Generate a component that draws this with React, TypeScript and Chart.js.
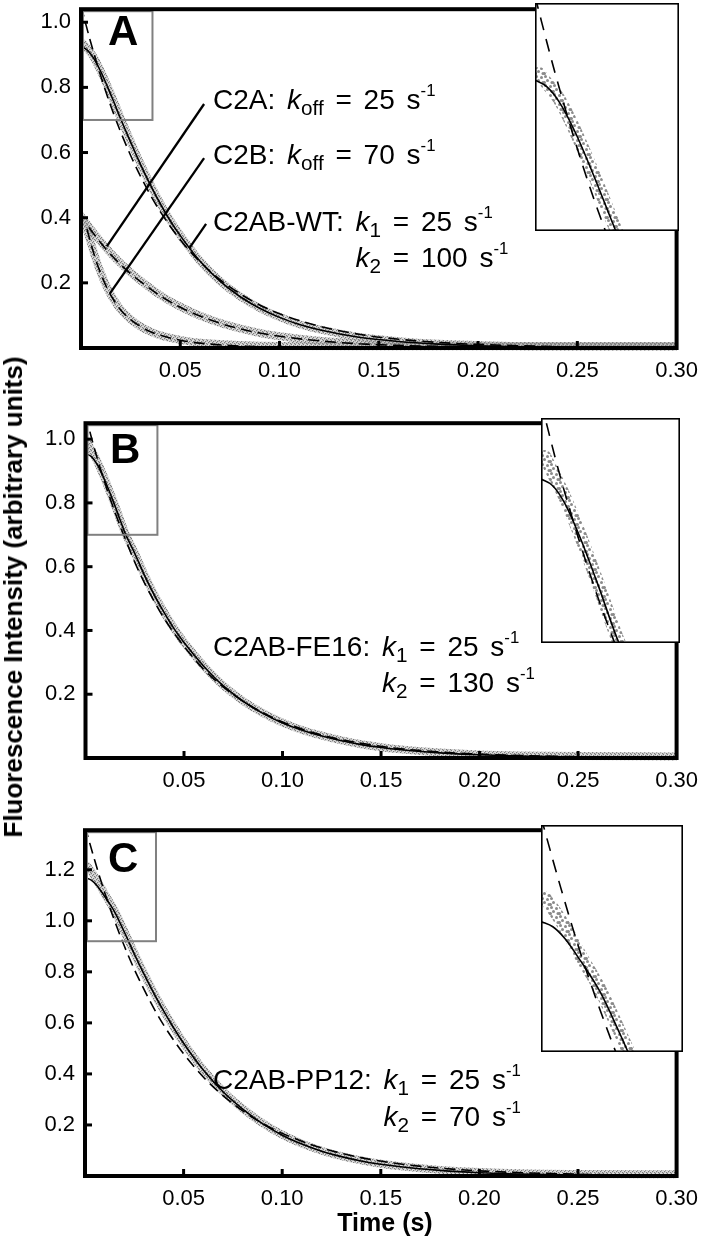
import React, { useEffect, useRef } from 'react';
import { Chart, registerables } from 'chart.js';
Chart.register(...registerables);

const FONT = '"Liberation Sans", Arial, Helvetica, sans-serif';
const PAGE_W = 708;
const PAD_T = 16;
const X_H = 44;

// ---------------- Panel A data ----------------
const tA_wt_obs = [0.001, 0.003, 0.006, 0.010, 0.015, 0.020, 0.025, 0.030, 0.035, 0.040, 0.045, 0.050, 0.060, 0.070, 0.080, 0.090, 0.100, 0.110, 0.120, 0.140, 0.160, 0.180, 0.200, 0.220, 0.250, 0.300];
const yA_wt_obs = [0.935, 0.920, 0.897, 0.850, 0.780, 0.705, 0.634, 0.565, 0.501, 0.443, 0.391, 0.346, 0.267, 0.206, 0.159, 0.123, 0.095, 0.073, 0.057, 0.034, 0.021, 0.013, 0.009, 0.006, 0.005, 0.005];
const tA_wt_fit = [0.000, 0.003, 0.006, 0.010, 0.015, 0.020, 0.025, 0.030, 0.035, 0.040, 0.045, 0.050, 0.060, 0.070, 0.080, 0.090, 0.100, 0.110, 0.120, 0.140, 0.160, 0.180, 0.200, 0.220, 0.250, 0.300];
const yA_wt_fit = [0.925, 0.915, 0.893, 0.848, 0.778, 0.703, 0.632, 0.563, 0.500, 0.442, 0.390, 0.345, 0.266, 0.205, 0.158, 0.122, 0.094, 0.072, 0.056, 0.033, 0.020, 0.012, 0.007, 0.004, 0.002, 0.001];
const tA_wt_exp = [0.000, 0.005, 0.010, 0.015, 0.020, 0.025, 0.030, 0.035, 0.040, 0.050, 0.060, 0.070, 0.080, 0.090, 0.100, 0.120, 0.140, 0.160, 0.180, 0.200, 0.250, 0.300];
const yA_wt_exp = [1.050, 0.936, 0.834, 0.743, 0.663, 0.591, 0.527, 0.469, 0.418, 0.332, 0.264, 0.210, 0.167, 0.132, 0.105, 0.067, 0.042, 0.027, 0.017, 0.011, 0.003, 0.001];

const tA_c2a_obs = [0.000, 0.003, 0.006, 0.010, 0.015, 0.020, 0.025, 0.030, 0.040, 0.050, 0.060, 0.070, 0.080, 0.090, 0.100, 0.120, 0.140, 0.160, 0.200, 0.250, 0.300];
const yA_c2a_obs = [0.405, 0.380, 0.356, 0.326, 0.291, 0.260, 0.232, 0.207, 0.162, 0.127, 0.099, 0.077, 0.060, 0.046, 0.036, 0.022, 0.014, 0.010, 0.006, 0.005, 0.005];
const tA_c2a_exp = [0.004, 0.010, 0.015, 0.020, 0.025, 0.030, 0.040, 0.050, 0.060, 0.070, 0.080, 0.090, 0.100, 0.120, 0.140, 0.160, 0.200, 0.250, 0.300];
const yA_c2a_exp = [0.370, 0.322, 0.287, 0.256, 0.228, 0.204, 0.160, 0.125, 0.098, 0.076, 0.059, 0.046, 0.036, 0.022, 0.013, 0.008, 0.003, 0.001, 0.000];

const tA_c2b_obs = [0.001, 0.003, 0.005, 0.008, 0.010, 0.013, 0.016, 0.020, 0.025, 0.030, 0.035, 0.040, 0.050, 0.060, 0.080, 0.100, 0.150, 0.200, 0.300];
const yA_c2b_obs = [0.390, 0.362, 0.322, 0.264, 0.230, 0.188, 0.153, 0.118, 0.088, 0.066, 0.050, 0.039, 0.025, 0.016, 0.009, 0.006, 0.005, 0.005, 0.005];
const tA_c2b_exp = [0.003, 0.005, 0.008, 0.010, 0.013, 0.016, 0.020, 0.025, 0.030, 0.035, 0.040, 0.050, 0.060, 0.080, 0.100, 0.150, 0.300];
const yA_c2b_exp = [0.365, 0.320, 0.260, 0.228, 0.185, 0.152, 0.117, 0.087, 0.066, 0.050, 0.039, 0.024, 0.015, 0.006, 0.003, 0.001, 0.000];

// ---------------- Panel B data ----------------
const tB_obs = [0.001, 0.003, 0.006, 0.010, 0.015, 0.020, 0.025, 0.030, 0.035, 0.040, 0.045, 0.050, 0.060, 0.070, 0.080, 0.090, 0.100, 0.110, 0.120, 0.130, 0.140, 0.150, 0.160, 0.180, 0.200, 0.220, 0.250, 0.300];
const yB_obs = [0.990, 0.966, 0.930, 0.872, 0.792, 0.708, 0.643, 0.573, 0.511, 0.456, 0.406, 0.363, 0.289, 0.227, 0.179, 0.141, 0.111, 0.088, 0.070, 0.055, 0.043, 0.034, 0.027, 0.017, 0.011, 0.008, 0.006, 0.005];
const tB_fit = [0.000, 0.003, 0.006, 0.010, 0.015, 0.020, 0.025, 0.030, 0.035, 0.040, 0.045, 0.050, 0.060, 0.070, 0.080, 0.090, 0.100, 0.110, 0.120, 0.130, 0.140, 0.150, 0.160, 0.180, 0.200, 0.220, 0.250, 0.300];
const yB_fit = [0.955, 0.945, 0.920, 0.868, 0.790, 0.707, 0.642, 0.572, 0.510, 0.455, 0.405, 0.362, 0.288, 0.226, 0.178, 0.140, 0.110, 0.087, 0.069, 0.054, 0.042, 0.033, 0.026, 0.016, 0.010, 0.006, 0.003, 0.001];
const tB_exp = [0.000, 0.005, 0.010, 0.015, 0.020, 0.025, 0.030, 0.035, 0.040, 0.050, 0.060, 0.070, 0.080, 0.090, 0.100, 0.120, 0.140, 0.160, 0.180, 0.200, 0.250, 0.300];
const yB_exp = [1.075, 0.960, 0.860, 0.770, 0.690, 0.614, 0.548, 0.490, 0.437, 0.350, 0.278, 0.222, 0.178, 0.142, 0.113, 0.072, 0.046, 0.029, 0.019, 0.012, 0.004, 0.001];

// ---------------- Panel C data ----------------
const tC_obs = [0.001, 0.003, 0.006, 0.010, 0.015, 0.020, 0.025, 0.030, 0.035, 0.040, 0.045, 0.050, 0.060, 0.070, 0.080, 0.090, 0.100, 0.110, 0.120, 0.130, 0.140, 0.150, 0.160, 0.180, 0.200, 0.220, 0.250, 0.300];
const yC_obs = [1.215, 1.195, 1.160, 1.105, 1.040, 0.958, 0.873, 0.792, 0.717, 0.647, 0.582, 0.522, 0.417, 0.332, 0.264, 0.207, 0.162, 0.127, 0.099, 0.078, 0.061, 0.048, 0.038, 0.024, 0.016, 0.011, 0.008, 0.007];
const tC_fit = [0.000, 0.003, 0.006, 0.010, 0.015, 0.020, 0.025, 0.030, 0.035, 0.040, 0.045, 0.050, 0.060, 0.070, 0.080, 0.090, 0.100, 0.110, 0.120, 0.130, 0.140, 0.150, 0.160, 0.180, 0.200, 0.220, 0.250, 0.300];
const yC_fit = [1.170, 1.160, 1.138, 1.095, 1.035, 0.955, 0.870, 0.790, 0.715, 0.645, 0.580, 0.520, 0.415, 0.330, 0.262, 0.205, 0.160, 0.125, 0.097, 0.076, 0.059, 0.046, 0.036, 0.022, 0.013, 0.008, 0.004, 0.001];
const tC_exp = [0.000, 0.005, 0.010, 0.015, 0.020, 0.025, 0.030, 0.035, 0.040, 0.045, 0.050, 0.060, 0.070, 0.080, 0.090, 0.100, 0.120, 0.140, 0.160, 0.180, 0.200, 0.250, 0.300];
const yC_exp = [1.370, 1.235, 1.110, 1.000, 0.900, 0.810, 0.730, 0.656, 0.590, 0.532, 0.479, 0.388, 0.315, 0.255, 0.206, 0.167, 0.110, 0.072, 0.047, 0.031, 0.020, 0.007, 0.002];

// ---------------- Axis ticks ----------------
const xTicks = [0.05, 0.10, 0.15, 0.20, 0.25, 0.30];
const yTicksAB = [0.2, 0.4, 0.6, 0.8, 1.0];
const yTicksC = [0.2, 0.4, 0.6, 0.8, 1.0, 1.2];

type Series = { t: number[]; y: number[] };
type Rect = { left: number; top: number; right: number; bottom: number };
type Pointer = { x1: number; y1: number; x2: number; y2: number };
type PanelCfg = {
  area: Rect;
  yMax: number;
  yTicks: number[];
  obs: Series[];
  fits: Series[];
  exps: Series[];
  boxX: number;
  boxY: number;
  inset: Rect;
  pointers: Pointer[];
};

const panels: PanelCfg[] = [
  {
    area: { left: 81, right: 681, top: 2, bottom: 348 },
    yMax: 1.04,
    yTicks: yTicksAB,
    obs: [
      { t: tA_wt_obs, y: yA_wt_obs },
      { t: tA_c2a_obs, y: yA_c2a_obs },
      { t: tA_c2b_obs, y: yA_c2b_obs },
    ],
    fits: [{ t: tA_wt_fit, y: yA_wt_fit }],
    exps: [
      { t: tA_wt_exp, y: yA_wt_exp },
      { t: tA_c2a_exp, y: yA_c2a_exp },
      { t: tA_c2b_exp, y: yA_c2b_exp },
    ],
    boxX: 0.036,
    boxY: 0.70,
    inset: { left: 535, top: 3, right: 679, bottom: 231 },
    pointers: [
      { x1: 0.062, y1: 0.749, x2: 0.013, y2: 0.312 },
      { x1: 0.062, y1: 0.583, x2: 0.0145, y2: 0.167 },
      { x1: 0.063, y1: 0.381, x2: 0.0545, y2: 0.306 },
    ],
  },
  {
    area: { left: 85.5, right: 681.5, top: 416, bottom: 758 },
    yMax: 1.05,
    yTicks: yTicksAB,
    obs: [{ t: tB_obs, y: yB_obs }],
    fits: [{ t: tB_fit, y: yB_fit }],
    exps: [{ t: tB_exp, y: yB_exp }],
    boxX: 0.0365,
    boxY: 0.70,
    inset: { left: 541, top: 418, right: 680, bottom: 643 },
    pointers: [],
  },
  {
    area: { left: 85, right: 685, top: 823, bottom: 1176 },
    yMax: 1.355,
    yTicks: yTicksC,
    obs: [{ t: tC_obs, y: yC_obs }],
    fits: [{ t: tC_fit, y: yC_fit }],
    exps: [{ t: tC_exp, y: yC_exp }],
    boxX: 0.036,
    boxY: 0.92,
    inset: { left: 541, top: 825, right: 683, bottom: 1052 },
    pointers: [],
  },
];

function pts(s: Series) {
  return s.t.map((x, i) => ({ x, y: s.y[i] }));
}

// fixed speckle texture used to paint the scattered-point bands
function speckle(inset: boolean): CanvasPattern | string {
  const size = inset ? 9 : 4;
  const c = document.createElement('canvas');
  c.width = size;
  c.height = size;
  const g = c.getContext('2d');
  if (!g) return '#999';
  if (inset) {
    g.fillStyle = '#8a8a8a';
    const dots = [
      [1.5, 1.5],
      [6.5, 2.5],
      [3.5, 5.5],
      [8, 7.5],
      [0.5, 7.5],
    ];
    dots.forEach(([x, y]) => {
      g.beginPath();
      g.arc(x, y, 1.5, 0, Math.PI * 2);
      g.fill();
    });
  } else {
    g.fillStyle = 'rgba(160,160,160,0.35)';
    g.fillRect(0, 0, size, size);
    g.fillStyle = '#7c7c7c';
    const dots = [
      [0, 0],
      [2, 1],
      [1, 3],
      [3, 2],
    ];
    dots.forEach(([x, y]) => g.fillRect(x, y, 1.3, 1.3));
  }
  return g.createPattern(c, 'repeat') || '#999';
}

function buildDatasets(cfg: PanelCfg, inset: boolean): any[] {
  const out: any[] = [];
  const pat = speckle(inset);
  cfg.obs.forEach((s) =>
    out.push({
      data: pts(s),
      showLine: true,
      borderColor: pat,
      borderWidth: inset ? 13 : 8,
      pointRadius: 0,
      cubicInterpolationMode: 'monotone',
      borderCapStyle: 'round',
      order: 3,
      clip: inset ? 0 : { left: 0, top: 0, right: 0, bottom: 7 },
    })
  );
  cfg.fits.forEach((s) =>
    out.push({
      data: pts(s),
      showLine: true,
      borderColor: '#000',
      borderWidth: 1.6,
      pointRadius: 0,
      cubicInterpolationMode: 'monotone',
      order: 2,
    })
  );
  cfg.exps.forEach((s) =>
    out.push({
      data: pts(s),
      showLine: true,
      borderColor: '#000',
      borderWidth: 1.6,
      borderDash: inset ? [13, 9] : [11, 6],
      pointRadius: 0,
      cubicInterpolationMode: 'monotone',
      order: 1,
    })
  );
  return out;
}

function MainPanel({ cfg }: { cfg: PanelCfg }) {
  const ref = useRef<HTMLCanvasElement>(null);
  const a = cfg.area;
  const top = a.top - PAD_T;
  const h = a.bottom + X_H - top;
  useEffect(() => {
    const framePlugin = {
      id: 'frame',
      afterDraw(chart: any) {
        const { ctx, chartArea: ca, scales } = chart;
        const x = scales.x;
        const y = scales.y;
        ctx.save();
        // zoom indicator box
        ctx.strokeStyle = '#808080';
        ctx.lineWidth = 2;
        const bx = x.getPixelForValue(cfg.boxX);
        const by = y.getPixelForValue(cfg.boxY);
        ctx.strokeRect(ca.left + 2, ca.top + 2, bx - ca.left - 2, by - ca.top - 2);
        // pointer lines
        ctx.strokeStyle = '#000';
        ctx.lineWidth = 2.3;
        ctx.lineCap = 'butt';
        cfg.pointers.forEach((p) => {
          ctx.beginPath();
          ctx.moveTo(x.getPixelForValue(p.x1), y.getPixelForValue(p.y1));
          ctx.lineTo(x.getPixelForValue(p.x2), y.getPixelForValue(p.y2));
          ctx.stroke();
        });
        // frame
        ctx.lineWidth = 4;
        ctx.strokeRect(ca.left, ca.top, ca.right - ca.left, ca.bottom - ca.top);
        // inward ticks
        ctx.lineWidth = 3;
        xTicks.forEach((v) => {
          const px = x.getPixelForValue(v);
          if (px > ca.right - 3) return;
          ctx.beginPath();
          ctx.moveTo(px, ca.bottom);
          ctx.lineTo(px, ca.bottom - 7);
          ctx.stroke();
        });
        cfg.yTicks.forEach((v) => {
          const py = y.getPixelForValue(v);
          ctx.beginPath();
          ctx.moveTo(ca.left, py);
          ctx.lineTo(ca.left + 7, py);
          ctx.stroke();
        });
        ctx.restore();
      },
    };
    const chart = new Chart(ref.current as HTMLCanvasElement, {
      type: 'scatter',
      data: { datasets: buildDatasets(cfg, false) },
      options: {
        animation: false,
        responsive: false,
        events: [],
        layout: { padding: { top: PAD_T, right: PAGE_W - a.right, left: 0, bottom: 0 } },
        plugins: { legend: { display: false }, tooltip: { enabled: false } },
        scales: {
          x: {
            type: 'linear',
            min: 0,
            max: 0.3,
            afterFit: (s: any) => {
              s.height = X_H;
            },
            grid: { display: false, drawTicks: false },
            border: { display: false },
            ticks: {
              stepSize: 0.05,
              autoSkip: false,
              maxRotation: 0,
              includeBounds: false,
              padding: 10,
              color: '#000',
              font: { family: FONT, size: 22 },
              callback: (v: any) => {
                const n = Number(v);
                return n < 1e-9 ? '' : n.toFixed(2);
              },
            },
          },
          y: {
            type: 'linear',
            min: 0,
            max: cfg.yMax,
            afterFit: (s: any) => {
              s.width = a.left;
            },
            grid: { display: false, drawTicks: false },
            border: { display: false },
            ticks: {
              stepSize: 0.2,
              autoSkip: false,
              includeBounds: false,
              padding: 10,
              color: '#000',
              font: { family: FONT, size: 22 },
              callback: (v: any) => {
                const n = Number(v);
                return n < 1e-9 ? '' : n.toFixed(1);
              },
            },
          },
        },
      } as any,
      plugins: [framePlugin],
    });
    return () => chart.destroy();
  }, []);
  return (
    <canvas
      ref={ref}
      width={PAGE_W}
      height={h}
      style={{ position: 'absolute', left: 0, top, width: PAGE_W, height: h }}
    />
  );
}

function InsetPanel({ cfg }: { cfg: PanelCfg }) {
  const ref = useRef<HTMLCanvasElement>(null);
  const r = cfg.inset;
  const w = r.right - r.left;
  const h = r.bottom - r.top;
  useEffect(() => {
    const plug = {
      id: 'insetFrame',
      beforeDraw(chart: any) {
        const ctx = chart.ctx;
        ctx.save();
        ctx.fillStyle = '#fff';
        ctx.fillRect(0, 0, chart.width, chart.height);
        ctx.restore();
      },
      afterDraw(chart: any) {
        const ctx = chart.ctx;
        ctx.save();
        ctx.strokeStyle = '#000';
        ctx.lineWidth = 1.6;
        ctx.strokeRect(0.8, 0.8, chart.width - 1.6, chart.height - 1.6);
        ctx.restore();
      },
    };
    const chart = new Chart(ref.current as HTMLCanvasElement, {
      type: 'scatter',
      data: { datasets: buildDatasets(cfg, true) },
      options: {
        animation: false,
        responsive: false,
        events: [],
        layout: { padding: 0 },
        plugins: { legend: { display: false }, tooltip: { enabled: false } },
        scales: {
          x: { type: 'linear', display: false, min: 0, max: cfg.boxX },
          y: { type: 'linear', display: false, min: cfg.boxY, max: cfg.yMax },
        },
      } as any,
      plugins: [plug],
    });
    return () => chart.destroy();
  }, []);
  return (
    <canvas
      ref={ref}
      width={w}
      height={h}
      style={{ position: 'absolute', left: r.left, top: r.top, width: w, height: h }}
    />
  );
}

const TXT = 28;
const SUB: React.CSSProperties = { fontSize: '0.74em', verticalAlign: '-0.3em', lineHeight: 0 };
const SUP: React.CSSProperties = { fontSize: '0.6em', verticalAlign: '0.75em', lineHeight: 0 };

function Txt({ left, base, children }: { left: number; base: number; children: React.ReactNode }) {
  return (
    <div
      style={{
        position: 'absolute',
        left,
        top: base - 23.7,
        fontFamily: FONT,
        fontSize: TXT,
        lineHeight: `${TXT}px`,
        wordSpacing: '4px',
        whiteSpace: 'nowrap',
        color: '#000',
      }}
    >
      {children}
    </div>
  );
}

const K = ({ s }: { s: string }) => (
  <>
    <i>k</i>
    <sub style={SUB}>{s}</sub>
  </>
);
const Inv = () => (
  <>
    s<sup style={SUP}>-1</sup>
  </>
);

function Letter({ left, base, ch }: { left: number; base: number; ch: string }) {
  return (
    <div
      style={{
        position: 'absolute',
        left,
        top: base - 35.5,
        fontFamily: FONT,
        fontWeight: 'bold',
        fontSize: 42,
        lineHeight: '42px',
        color: '#000',
      }}
    >
      {ch}
    </div>
  );
}

export default function App() {
  return (
    <div
      style={{
        position: 'absolute',
        left: 0,
        top: 0,
        width: PAGE_W,
        height: 1236,
        background: '#fff',
        overflow: 'hidden',
      }}
    >
      {panels.map((p, i) => (
        <MainPanel key={'m' + i} cfg={p} />
      ))}
      {panels.map((p, i) => (
        <InsetPanel key={'i' + i} cfg={p} />
      ))}

      <Letter left={108} base={45} ch="A" />
      <Letter left={110} base={463} ch="B" />
      <Letter left={108} base={872} ch="C" />

      <Txt left={213} base={110}>
        C2A: <K s="off" /> = 25 <Inv />
      </Txt>
      <Txt left={213} base={165}>
        C2B: <K s="off" /> = 70 <Inv />
      </Txt>
      <Txt left={213} base={232}>
        C2AB-WT: <K s="1" /> = 25 <Inv />
      </Txt>
      <Txt left={213} base={268}>
        <span style={{ visibility: 'hidden' }}>C2AB-WT: </span>
        <K s="2" /> = 100 <Inv />
      </Txt>

      <Txt left={213} base={657}>
        C2AB-FE16: <K s="1" /> = 25 <Inv />
      </Txt>
      <Txt left={213} base={693}>
        <span style={{ visibility: 'hidden' }}>C2AB-FE16: </span>
        <K s="2" /> = 130 <Inv />
      </Txt>

      <Txt left={213} base={1090}>
        C2AB-PP12: <K s="1" /> = 25 <Inv />
      </Txt>
      <Txt left={213} base={1127}>
        <span style={{ visibility: 'hidden' }}>C2AB-PP12: </span>
        <K s="2" /> = 70 <Inv />
      </Txt>

      <div
        style={{
          position: 'absolute',
          left: 13,
          top: 597,
          transform: 'translate(-50%, -50%) rotate(-90deg)',
          fontFamily: FONT,
          fontWeight: 'bold',
          fontSize: 26,
          lineHeight: '26px',
          whiteSpace: 'nowrap',
          color: '#000',
        }}
      >
        Fluorescence Intensity (arbitrary units)
      </div>
      <div
        style={{
          position: 'absolute',
          left: 385,
          top: 1222,
          transform: 'translate(-50%, -50%)',
          fontFamily: FONT,
          fontWeight: 'bold',
          fontSize: 25,
          lineHeight: '25px',
          whiteSpace: 'nowrap',
          color: '#000',
        }}
      >
        Time (s)
      </div>
    </div>
  );
}
